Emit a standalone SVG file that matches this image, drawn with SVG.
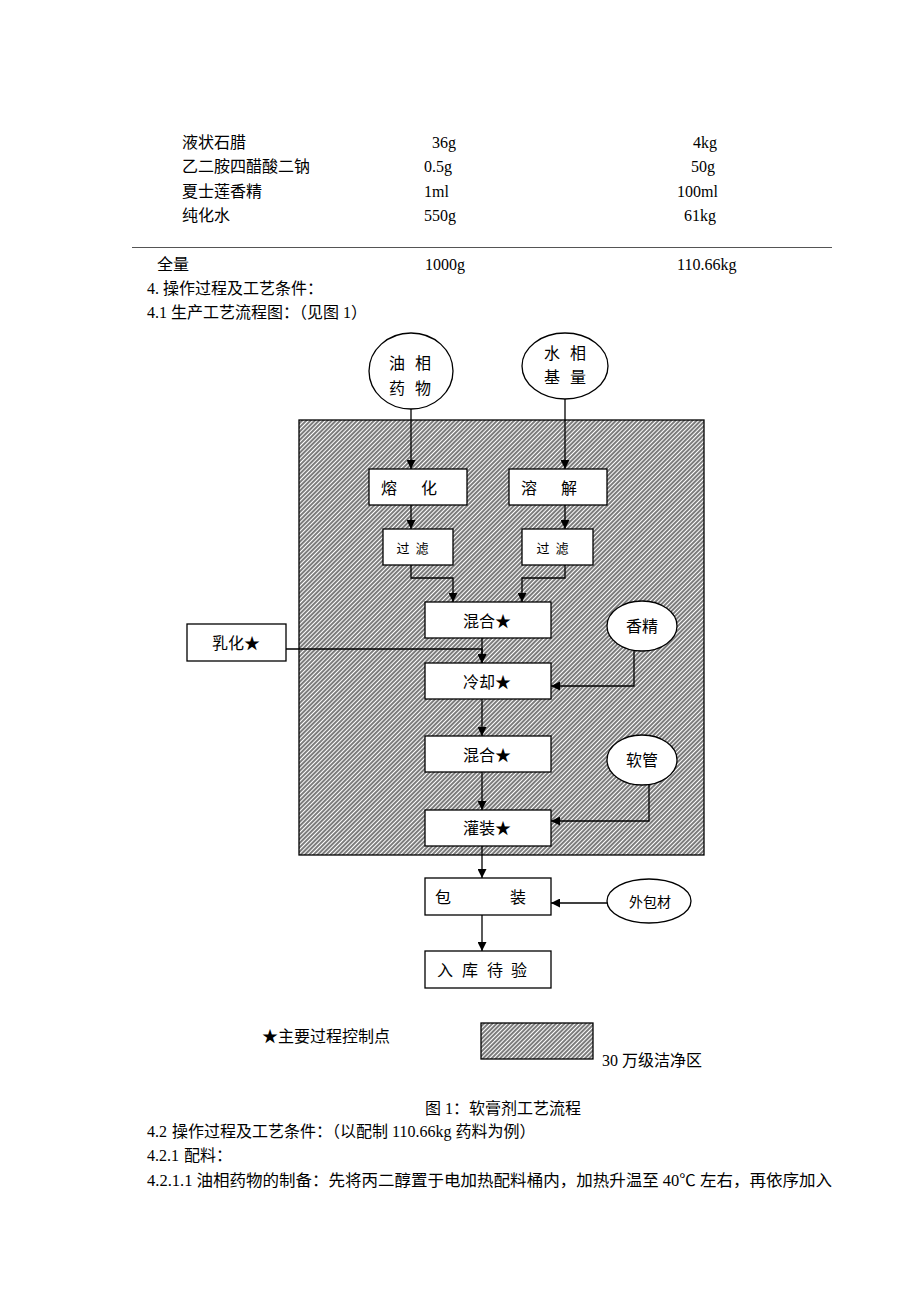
<svg xmlns="http://www.w3.org/2000/svg" width="920" height="1302" viewBox="0 0 920 1302">
<style>
text{font-family:"Liberation Serif","Noto Sans CJK SC",serif;fill:#000;}
.t{font-size:16px;}
.n{font-size:16px;text-anchor:middle;}
.s{font-size:13px;text-anchor:middle;}
.box{fill:#fff;stroke:#000;stroke-width:1.3;}
.con{fill:none;stroke:#000;stroke-width:1.3;}
</style>
<defs>
<pattern id="hatch" width="3" height="3" patternUnits="userSpaceOnUse" patternTransform="rotate(45)">
<rect width="3" height="3" fill="#fff"/>
<line x1="1" y1="0" x2="1" y2="3" stroke="#111" stroke-width="1.1"/>
</pattern>
<marker id="arr" viewBox="0 0 10 10" refX="10" refY="5" markerWidth="9" markerHeight="9" markerUnits="userSpaceOnUse" orient="auto">
<path d="M0,0 L10,5 L0,10 Z" fill="#000"/>
</marker>
</defs>
<rect width="920" height="1302" fill="#fff"/>

<g id="table">
<text class="t" x="182" y="148">液状石腊</text><text class="t" x="432" y="148">36g</text><text class="t" x="693" y="148">4kg</text>
<text class="t" x="182" y="172">乙二胺四醋酸二钠</text><text class="t" x="424" y="172">0.5g</text><text class="t" x="691" y="172">50g</text>
<text class="t" x="182" y="197">夏士莲香精</text><text class="t" x="424" y="197">1ml</text><text class="t" x="677" y="197">100ml</text>
<text class="t" x="182" y="221">纯化水</text><text class="t" x="424" y="221">550g</text><text class="t" x="684" y="221">61kg</text>
<line x1="132" y1="247.5" x2="832" y2="247.5" stroke="#555" stroke-width="1.2"/>
<text class="t" x="157" y="270">全量</text><text class="t" x="425" y="270">1000g</text><text class="t" x="677" y="270">110.66kg</text>
<text class="t" x="147" y="294">4.</text><text class="t" x="163" y="294">操作过程及工艺条件：</text>
<text class="t" x="147" y="318">4.1</text><text class="t" x="171" y="318">生产工艺流程图：（见图 1）</text>
</g>

<g id="cleanzone"><rect x="299" y="420" width="405" height="435" fill="url(#hatch)" stroke="#000" stroke-width="1.3"/></g>

<g id="connectors">
<path class="con" d="M411,409 V469" marker-end="url(#arr)"/>
<path class="con" d="M565,399 V469" marker-end="url(#arr)"/>
<path class="con" d="M411,505 V529" marker-end="url(#arr)"/>
<path class="con" d="M565,505 V529" marker-end="url(#arr)"/>
<path class="con" d="M411,565 V578 H453 V602" marker-end="url(#arr)"/>
<path class="con" d="M565,565 V578 H522 V602" marker-end="url(#arr)"/>
<path class="con" d="M482,638 V663" marker-end="url(#arr)"/>
<path class="con" d="M286,649 H482 V663" marker-end="url(#arr)"/>
<path class="con" d="M634,651 V686 H551" marker-end="url(#arr)"/>
<path class="con" d="M482,699 V736" marker-end="url(#arr)"/>
<path class="con" d="M482,772 V810" marker-end="url(#arr)"/>
<path class="con" d="M649,785 V821 H551" marker-end="url(#arr)"/>
<path class="con" d="M482,846 V878" marker-end="url(#arr)"/>
<path class="con" d="M607,903 H551" marker-end="url(#arr)"/>
<path class="con" d="M482,915 V951" marker-end="url(#arr)"/>
</g>

<g id="n-oil"><ellipse cx="411" cy="371" rx="42" ry="38" class="box"/><text class="n" x="397" y="369">油</text><text class="n" x="423" y="369">相</text><text class="n" x="397" y="394">药</text><text class="n" x="423" y="394">物</text></g>
<g id="n-water"><ellipse cx="565" cy="366" rx="43" ry="33" class="box"/><text class="n" x="552" y="359">水</text><text class="n" x="578" y="359">相</text><text class="n" x="552" y="383">基</text><text class="n" x="578" y="383">量</text></g>
<g id="n-melt"><rect x="369" y="469" width="98" height="36" class="box"/><text class="n" x="389" y="494">熔</text><text class="n" x="429" y="494">化</text></g>
<g id="n-dissolve"><rect x="509" y="469" width="98" height="36" class="box"/><text class="n" x="529" y="494">溶</text><text class="n" x="569" y="494">解</text></g>
<g id="n-filter1"><rect x="383" y="529" width="70" height="36" class="box"/><text class="s" x="403" y="553">过</text><text class="s" x="422" y="553">滤</text></g>
<g id="n-filter2"><rect x="522" y="529" width="71" height="36" class="box"/><text class="s" x="543" y="553">过</text><text class="s" x="562" y="553">滤</text></g>
<g id="n-mix1"><rect x="425" y="602" width="126" height="36" class="box"/><text class="n" x="487" y="627">混合★</text></g>
<g id="n-emulsify"><rect x="187" y="624" width="99" height="37" class="box"/><text class="n" x="236" y="649">乳化★</text></g>
<g id="n-cool"><rect x="425" y="663" width="126" height="36" class="box"/><text class="n" x="487" y="688">冷却★</text></g>
<g id="n-flavor"><ellipse cx="642" cy="626" rx="35" ry="25" class="box"/><text class="n" x="642" y="632">香精</text></g>
<g id="n-mix2"><rect x="425" y="736" width="126" height="36" class="box"/><text class="n" x="487" y="761">混合★</text></g>
<g id="n-tube"><ellipse cx="642" cy="760" rx="35" ry="25" class="box"/><text class="n" x="642" y="766">软管</text></g>
<g id="n-fill"><rect x="425" y="810" width="126" height="36" class="box"/><text class="n" x="487" y="834">灌装★</text></g>
<g id="n-pack"><rect x="425" y="878" width="126" height="37" class="box"/><text class="n" x="443" y="903">包</text><text class="n" x="518" y="903">装</text></g>
<g id="n-outer"><ellipse cx="649" cy="901" rx="42" ry="22" class="box"/><text class="s" x="650" y="907" style="font-size:14px">外包材</text></g>
<g id="n-store"><rect x="425" y="951" width="126" height="37" class="box"/><text class="n" x="445" y="976">入</text><text class="n" x="470" y="976">库</text><text class="n" x="495" y="976">待</text><text class="n" x="519" y="976">验</text></g>

<g id="legend">
<text class="t" x="262" y="1042">★主要过程控制点</text>
<rect x="481" y="1023" width="112" height="36" fill="url(#hatch)" stroke="#000" stroke-width="1.3"/>
<text class="t" x="602" y="1066">30 万级洁净区</text>
<text class="t" x="503" y="1114" text-anchor="middle">图 1：软膏剂工艺流程</text>
</g>

<g id="body">
<text class="t" x="147" y="1137">4.2</text><text class="t" x="172" y="1137">操作过程及工艺条件：（以配制 110.66kg 药料为例）</text>
<text class="t" x="147" y="1161">4.2.1</text><text class="t" x="184" y="1161">配料：</text>
<text class="t" x="147" y="1186" textLength="685" lengthAdjust="spacingAndGlyphs">4.2.1.1 油相药物的制备：先将丙二醇置于电加热配料桶内，加热升温至 40℃ 左右，再依序加入</text>
</g>
</svg>
